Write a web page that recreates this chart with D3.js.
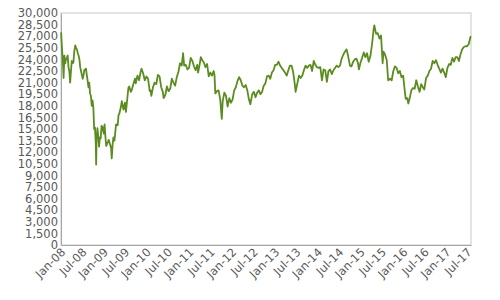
<!DOCTYPE html>
<html>
<head>
<meta charset="utf-8">
<script src="https://cdn.jsdelivr.net/npm/d3@7"></script>
<style>
  body { margin: 0; background: #fff; }
  svg text { font-family: "DejaVu Sans", Verdana, sans-serif; fill: #595959; }
</style>
</head>
<body>
<script>
// index level, roughly every two weeks
var dates = [
  "2008-01-02","2008-01-09","2008-01-16","2008-01-23","2008-01-30","2008-02-06","2008-02-13","2008-02-20","2008-02-27",
  "2008-03-05","2008-03-12","2008-03-19","2008-03-26","2008-04-02","2008-04-09","2008-04-16","2008-04-23","2008-05-02",
  "2008-05-09","2008-05-16","2008-05-23","2008-05-30","2008-06-06","2008-06-13","2008-06-20","2008-06-27","2008-07-04",
  "2008-07-11","2008-07-18","2008-07-25","2008-08-01","2008-08-08","2008-08-15","2008-08-22","2008-08-29","2008-09-05",
  "2008-09-12","2008-09-19","2008-09-26","2008-10-03","2008-10-10","2008-10-17","2008-10-24","2008-10-27","2008-10-31",
  "2008-11-07","2008-11-14","2008-11-21","2008-11-28","2008-12-05","2008-12-12","2008-12-19","2008-12-31",
  "2009-01-07","2009-01-14","2009-01-21","2009-02-04","2009-02-11","2009-02-25","2009-03-04","2009-03-09","2009-03-16",
  "2009-03-23","2009-04-01","2009-04-15","2009-04-29","2009-05-06","2009-05-13","2009-05-27","2009-06-03","2009-06-17",
  "2009-06-30","2009-07-08","2009-07-15","2009-07-29","2009-08-05","2009-08-19","2009-08-26","2009-09-09","2009-09-23",
  "2009-09-30","2009-10-14","2009-10-28","2009-11-11","2009-11-18","2009-12-02","2009-12-16","2009-12-30",
  "2010-01-13","2010-01-27","2010-02-03","2010-02-10","2010-02-24","2010-03-10","2010-03-24","2010-04-07","2010-04-21",
  "2010-05-05","2010-05-19","2010-05-26","2010-06-09","2010-06-23","2010-07-07","2010-07-21","2010-08-04","2010-08-18",
  "2010-09-01","2010-09-15","2010-09-29","2010-10-13","2010-10-27","2010-11-08","2010-11-17","2010-12-01","2010-12-15",
  "2010-12-29",
  "2011-01-12","2011-01-26","2011-02-09","2011-02-23","2011-03-09","2011-03-16","2011-03-30","2011-04-08","2011-04-20",
  "2011-05-04","2011-05-18","2011-06-01","2011-06-15","2011-06-29","2011-07-13","2011-07-27","2011-08-03","2011-08-10",
  "2011-08-24","2011-09-07","2011-09-21","2011-10-04","2011-10-12","2011-10-26","2011-11-09","2011-11-23","2011-12-07",
  "2011-12-21",
  "2012-01-04","2012-01-18","2012-02-01","2012-02-15","2012-02-29","2012-03-14","2012-03-28","2012-04-11","2012-04-25",
  "2012-05-09","2012-05-23","2012-06-04","2012-06-20","2012-07-04","2012-07-18","2012-08-01","2012-08-15","2012-08-29",
  "2012-09-12","2012-09-26","2012-10-10","2012-10-24","2012-11-07","2012-11-21","2012-12-05","2012-12-19",
  "2013-01-02","2013-01-16","2013-01-30","2013-02-13","2013-02-27","2013-03-13","2013-03-27","2013-04-10","2013-04-24",
  "2013-05-08","2013-05-22","2013-06-05","2013-06-19","2013-06-25","2013-07-10","2013-07-24","2013-08-07","2013-08-21",
  "2013-09-04","2013-09-18","2013-10-02","2013-10-16","2013-10-30","2013-11-13","2013-11-27","2013-12-11","2013-12-24",
  "2014-01-08","2014-01-22","2014-02-05","2014-02-19","2014-03-05","2014-03-19","2014-04-02","2014-04-16","2014-04-30",
  "2014-05-14","2014-05-28","2014-06-11","2014-06-25","2014-07-09","2014-07-23","2014-08-06","2014-08-20","2014-09-03",
  "2014-09-17","2014-10-02","2014-10-15","2014-10-29","2014-11-12","2014-11-26","2014-12-10","2014-12-17","2014-12-31",
  "2015-01-14","2015-01-28","2015-02-11","2015-02-25","2015-03-11","2015-03-25","2015-04-08","2015-04-22","2015-04-28",
  "2015-05-13","2015-05-27","2015-06-10","2015-06-24","2015-07-08","2015-07-15","2015-07-29","2015-08-12","2015-08-24",
  "2015-09-09","2015-09-23","2015-10-07","2015-10-21","2015-11-04","2015-11-18","2015-12-02","2015-12-16","2015-12-30",
  "2016-01-13","2016-01-21","2016-02-03","2016-02-12","2016-02-24","2016-03-09","2016-03-23","2016-04-06","2016-04-20",
  "2016-05-04","2016-05-18","2016-06-01","2016-06-15","2016-06-27","2016-07-13","2016-07-27","2016-08-10","2016-08-24",
  "2016-09-07","2016-09-21","2016-10-05","2016-10-19","2016-11-02","2016-11-16","2016-11-30","2016-12-14","2016-12-28",
  "2017-01-11","2017-01-25","2017-02-08","2017-02-22","2017-03-08","2017-03-22","2017-04-05","2017-04-19","2017-05-03",
  "2017-05-17","2017-05-31","2017-06-14","2017-06-28","2017-07-12","2017-07-26","2017-07-31"
];
var values = [
  27500,25500,24000,21600,24500,23500,24000,24200,24500,
  23000,22500,21000,22500,23800,23500,23600,25000,25800,
  25500,25300,24800,24500,24000,23000,22500,22000,21500,
  21900,22600,22700,22800,22000,21300,20400,21000,19600,
  19300,18000,18700,17800,15000,15200,13000,10400,13900,
  15100,14000,12700,13900,13800,15400,15300,14400,
  15600,14000,12800,13300,13600,12900,12500,11200,12900,
  13900,13500,15600,15500,16800,17000,17900,18600,17500,
  18400,17200,18200,20300,20500,19800,20000,20800,21500,
  20900,21900,21300,22400,22800,22200,21300,21800,
  21500,19900,20000,19300,20400,21000,20800,22000,21800,
  20400,19800,19000,19400,20500,19900,20200,21500,21000,
  20600,21700,22400,23500,23200,24800,23200,23300,22700,
  22900,
  24200,23800,23100,22600,23300,22300,23400,24300,23900,
  23600,23000,23400,21800,22300,21900,22500,22000,19600,
  19900,20000,18800,16300,18600,19700,19300,17900,19000,
  18400,
  18800,20000,20400,21200,21700,21300,20600,20400,20700,
  20000,18800,18200,19500,19800,19100,19700,20000,19500,
  19800,20600,20900,21800,21900,21500,22300,22600,
  23300,23300,23700,23200,22900,22600,22300,21900,22600,
  23200,23200,22300,20700,19800,20900,21900,21600,21900,
  22600,23200,22900,23200,23300,22500,23800,23300,23000,
  22900,23000,21300,22700,22600,21100,22500,22700,22100,
  22600,22900,23200,23000,23200,24100,24600,25000,25300,
  24400,23200,23100,23700,24000,24100,23500,22700,23600,
  24200,24900,24300,24800,23700,24400,25900,27900,28400,
  27300,27400,26700,27100,23500,25000,24600,23900,21300,
  21500,21300,22500,23100,22900,22200,22500,21700,21900,
  19900,18900,19000,18300,19000,20000,20300,20200,21300,
  20500,19800,20800,20400,20100,21600,21900,22500,22800,
  23800,23500,23900,23300,22800,22300,22800,22300,21700,
  22900,23400,23300,24200,23700,24300,24300,23800,24700,
  25300,25600,25700,25700,26000,26900,27000
];
var yTicks = d3.range(0, 30001, 1500);
var xTicks = [
  "2008-01-01","2008-07-01","2009-01-01","2009-07-01","2010-01-01","2010-07-01","2011-01-01","2011-07-01",
  "2012-01-01","2012-07-01","2013-01-01","2013-07-01","2014-01-01","2014-07-01","2015-01-01","2015-07-01",
  "2016-01-01","2016-07-01","2017-01-01","2017-07-01"
];

var width = 500, height = 300;
var margin = { top: 13, right: 29, bottom: 55, left: 61 };
var w = width - margin.left - margin.right,
    h = height - margin.top - margin.bottom;

var parse = d3.timeParse("%Y-%m-%d");
var series = dates.map(function (d, i) { return { date: parse(d), value: values[i] }; });

var svg = d3.select("body").append("svg")
    .attr("width", width)
    .attr("height", height);

var g = svg.append("g")
    .attr("transform", "translate(" + margin.left + "," + margin.top + ")");

var x = d3.scaleTime()
    .domain([parse(xTicks[0]), series[series.length - 1].date])
    .range([0, w]);

var y = d3.scaleLinear()
    .domain([0, 30000])
    .range([h, 0]);

// plot frame
g.append("rect")
    .attr("width", w)
    .attr("height", h)
    .attr("fill", "none")
    .attr("stroke", "#c8c8c8");

// y axis
var yAxis = g.append("g")
    .call(d3.axisLeft(y).tickValues(yTicks).tickSize(0).tickPadding(3).tickFormat(d3.format(",")));
yAxis.select(".domain").attr("stroke", "#a6a6a6");
yAxis.selectAll("text").style("font-size", "11.5px");

// x axis, labels every six months
var xAxis = g.append("g")
    .attr("transform", "translate(0," + h + ")")
    .call(d3.axisBottom(x).tickValues(xTicks.map(parse)).tickSize(0).tickFormat(d3.timeFormat("%b-%y")));
xAxis.select(".domain").attr("stroke", "#a6a6a6");
xAxis.selectAll("text")
    .style("font-size", "11.5px")
    .attr("text-anchor", "end")
    .attr("dx", "-0.2em")
    .attr("dy", "0.5em")
    .attr("transform", "rotate(-45)");

// index line
var line = d3.line()
    .x(function (d) { return x(d.date); })
    .y(function (d) { return y(d.value); });

g.append("path")
    .datum(series)
    .attr("fill", "none")
    .attr("stroke", "#5b8c1f")
    .attr("stroke-width", 1.8)
    .attr("stroke-linejoin", "round")
    .attr("d", line);
</script>
</body>
</html>
